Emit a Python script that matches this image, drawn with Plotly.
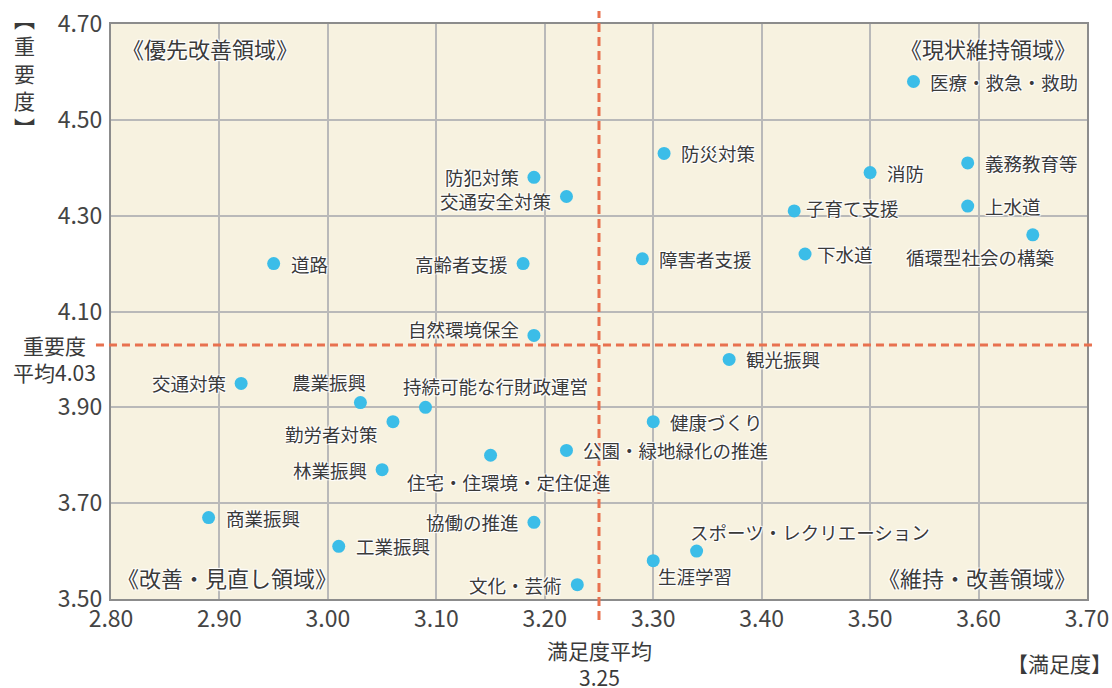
import plotly.graph_objects as go

# ---- data ----
names = ["道路", "交通対策", "農業振興", "勤労者対策", "林業振興", "商業振興", "工業振興",
         "防犯対策", "交通安全対策", "高齢者支援", "防災対策", "障害者支援",
         "医療・救急・救助", "消防", "義務教育等", "子育て支援", "上水道", "循環型社会の構築", "下水道",
         "自然環境保全", "観光振興", "持続可能な行財政運営", "健康づくり", "公園・緑地緑化の推進",
         "住宅・住環境・定住促進", "協働の推進", "スポーツ・レクリエーション", "生涯学習", "文化・芸術"]
satisfaction = [2.95, 2.92, 3.03, 3.06, 3.05, 2.89, 3.01,
                3.19, 3.22, 3.18, 3.31, 3.29,
                3.54, 3.50, 3.59, 3.43, 3.59, 3.65, 3.44,
                3.19, 3.37, 3.09, 3.30, 3.22,
                3.15, 3.19, 3.34, 3.30, 3.23]
importance = [4.20, 3.95, 3.91, 3.87, 3.77, 3.67, 3.61,
              4.38, 4.34, 4.20, 4.43, 4.21,
              4.58, 4.39, 4.41, 4.31, 4.32, 4.26, 4.22,
              4.05, 4.00, 3.90, 3.87, 3.81,
              3.80, 3.66, 3.60, 3.58, 3.53]
avg_satisfaction = 3.25
avg_importance = 4.03
x_ticks = [2.80, 2.90, 3.00, 3.10, 3.20, 3.30, 3.40, 3.50, 3.60, 3.70]
y_ticks = [3.50, 3.70, 3.90, 4.10, 4.30, 4.50, 4.70]
quadrants = ["《優先改善領域》", "《現状維持領域》", "《改善・見直し領域》", "《維持・改善領域》"]

# ---- label placement (pixels relative to marker): anchor, dx, dy(up positive) ----
R = ("left", 15, 0)
L = ("right", -13, 0)
placement = {
    "農業振興": ("center", -31, 21),
    "勤労者対策": ("center", -61, -12),
    "循環型社会の構築": ("center", -53, -22),
    "持続可能な行財政運営": ("center", 70, 21),
    "住宅・住環境・定住促進": ("center", 18, -27),
    "スポーツ・レクリエーション": ("center", 113, 19),
    "生涯学習": ("center", 42, -15),
    "自然環境保全": ("right", -13, 6),
    "交通安全対策": ("right", -13, -4),
    "子育て支援": ("left", 10, 3),
    "下水道": ("left", 10, 0),
}
left_set = {"交通対策", "林業振興", "防犯対策", "交通安全対策", "高齢者支援", "協働の推進", "文化・芸術"}

FONT = "Noto Sans CJK JP"
TXT = "#3a3a3a"
BLUE = "#3bbde8"
ORANGE = "#e8714f"
GRID = "#b9b9b9"
BORDER = "#8c8c8c"
BG = "#f7f2e0"
SHADOW = "1px 1px 1px #fff, -1px -1px 1px #fff, 1px -1px 1px #fff, -1px 1px 1px #fff"

fig = go.Figure()
fig.add_trace(go.Scatter(
    x=satisfaction, y=importance, mode="markers",
    marker=dict(color=BLUE, size=13, line=dict(width=0)),
    hovertext=names, hoverinfo="text", showlegend=False,
))

annotations = []
for n, sx, iy in zip(names, satisfaction, importance):
    if n in placement:
        anc, dx, dy = placement[n]
    elif n in left_set:
        anc, dx, dy = L
    else:
        anc, dx, dy = R
    annotations.append(dict(
        x=sx, y=iy, xref="x", yref="y", text=n, showarrow=False,
        xanchor=anc, yanchor="middle", xshift=dx, yshift=dy,
        font=dict(family=FONT, size=18.5, color=TXT, shadow=SHADOW),
    ))

qfont = dict(family=FONT, size=22, color=TXT, shadow=SHADOW)
annotations += [
    dict(x=0, y=1, xref="paper", yref="paper", text=quadrants[0], showarrow=False,
         xanchor="left", yanchor="middle", xshift=9, yshift=-24, font=qfont),
    dict(x=1, y=1, xref="paper", yref="paper", text=quadrants[1], showarrow=False,
         xanchor="right", yanchor="middle", xshift=-9, yshift=-24, font=qfont),
    dict(x=0, y=0, xref="paper", yref="paper", text=quadrants[2], showarrow=False,
         xanchor="left", yanchor="middle", xshift=4, yshift=22, font=qfont),
    dict(x=1, y=0, xref="paper", yref="paper", text=quadrants[3], showarrow=False,
         xanchor="right", yanchor="middle", xshift=-9, yshift=22, font=qfont),
]

afont = dict(family=FONT, size=21, color=TXT)
annotations += [
    dict(x=-0.058, y=(599 - 358) / 575, xref="paper", yref="paper",
         text=f"重要度<br>平均{avg_importance:.2f}", showarrow=False,
         xanchor="center", yanchor="middle", align="center", font=afont),
    dict(x=avg_satisfaction, y=-0.113, xref="x", yref="paper",
         text=f"満足度平均<br>{avg_satisfaction:.2f}", showarrow=False,
         xanchor="center", yanchor="middle", align="center", font=afont),
    dict(x=1.028, y=-0.111, xref="paper", yref="paper", text="【満足度】", showarrow=False,
         xanchor="right", yanchor="middle", font=afont),
    dict(x=-0.089, y=0.915, xref="paper", yref="paper",
         text="︻<br>重<br>要<br>度<br>︼", showarrow=False,
         xanchor="center", yanchor="middle", align="center", font=afont),
]

shapes = [
    dict(type="line", xref="x", yref="paper", x0=avg_satisfaction, x1=avg_satisfaction,
         y0=-0.0365, y1=1.0226, line=dict(color=ORANGE, width=3, dash="9px,5px"), layer="above"),
    dict(type="line", xref="paper", yref="y", x0=-0.0154, x1=1.0102,
         y0=avg_importance, y1=avg_importance, line=dict(color=ORANGE, width=3, dash="8px,5px"), layer="above"),
]

fig.update_layout(
    width=1112, height=688,
    margin=dict(l=111, r=25, t=24, b=89),
    paper_bgcolor="white", plot_bgcolor=BG,
    font=dict(family=FONT, color=TXT),
    annotations=annotations, shapes=shapes,
    xaxis=dict(range=[x_ticks[0], x_ticks[-1]], tickvals=x_ticks,
               ticktext=[f"{v:.2f}" for v in x_ticks], automargin=False,
               showgrid=True, gridcolor=GRID, gridwidth=1.5, zeroline=False,
               showline=True, linecolor=BORDER, linewidth=2, mirror=True,
               ticks="", ticklabelstandoff=-2,
               tickfont=dict(family=FONT, size=23, color="#444")),
    yaxis=dict(range=[y_ticks[0], y_ticks[-1]], tickvals=y_ticks,
               ticktext=[f"{v:.2f}" for v in y_ticks], automargin=False,
               showgrid=True, gridcolor=GRID, gridwidth=1.5, zeroline=False,
               showline=True, linecolor=BORDER, linewidth=2, mirror=True,
               ticks="", ticklabelstandoff=2,
               tickfont=dict(family=FONT, size=23, color="#444")),
)

fig.write_html("out.html", config={"displayModeBar": False},
               post_script="document.body.style.margin='0';document.body.style.overflow='hidden';")
